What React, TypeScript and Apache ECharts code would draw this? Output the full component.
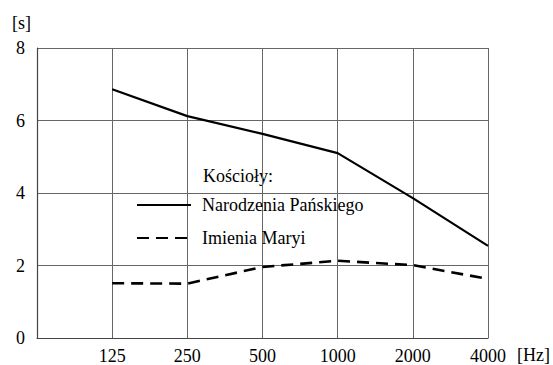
import React, { useEffect, useRef } from "react";
import * as echarts from "echarts";

const categories = ["", "125", "250", "500", "1000", "2000", "4000"];
const narodzenia = [null, 6.86, 6.12, 5.63, 5.1, 3.86, 2.54];
const imienia = [null, 1.51, 1.5, 1.96, 2.13, 2.01, 1.63];
const seriesNames = ["Narodzenia Pańskiego", "Imienia Maryi"];
const legendTitle = "Kościoły:";
const yUnit = "[s]";
const xUnit = "[Hz]";

const FONT = "'Liberation Serif', 'Times New Roman', serif";

export default function App() {
  const ref = useRef<HTMLDivElement>(null);
  useEffect(() => {
    if (!ref.current) return;
    const chart = echarts.init(ref.current, null, { renderer: "svg" });
    chart.setOption({
      animation: false,
      backgroundColor: "#fff",
      textStyle: { fontFamily: FONT, color: "#000" },
      grid: { left: 37, right: 65, top: 48, bottom: 27, containLabel: false },
      xAxis: {
        type: "category",
        data: categories,
        boundaryGap: false,
        axisTick: { show: false },
        axisLine: { show: true, lineStyle: { color: "#444", width: 1.2 } },
        axisLabel: { color: "#000", fontSize: 18, fontFamily: FONT, margin: 9 },
        splitLine: { show: true, lineStyle: { color: "#666", width: 1 } },
      },
      yAxis: {
        type: "value",
        min: 0,
        max: 8,
        interval: 2,
        axisTick: { show: false },
        axisLine: { show: true, lineStyle: { color: "#444", width: 1.2 } },
        axisLabel: { color: "#000", fontSize: 18, fontFamily: FONT, margin: 12 },
        splitLine: { show: true, lineStyle: { color: "#666", width: 1 } },
      },
      legend: {
        orient: "vertical",
        left: 136,
        top: 196,
        itemWidth: 54,
        itemHeight: 14,
        itemGap: 15,
        itemStyle: { opacity: 0 },
        textStyle: { fontSize: 18, fontFamily: FONT, color: "#000", padding: [0, 0, 0, 6] },
        data: seriesNames,
        backgroundColor: "transparent",
        padding: 0,
      },
      graphic: [
        {
          type: "text",
          left: 203,
          top: 167,
          style: { text: legendTitle, fontSize: 18, fontFamily: FONT, fill: "#000" },
        },
        {
          type: "text",
          left: 12,
          top: 14,
          style: { text: yUnit, fontSize: 18, fontFamily: FONT, fill: "#000" },
        },
        {
          type: "text",
          left: 517,
          top: 346,
          style: { text: xUnit, fontSize: 18, fontFamily: FONT, fill: "#000" },
        },
      ],
      series: [
        {
          name: seriesNames[0],
          type: "line",
          data: narodzenia,
          symbol: "none",
          itemStyle: { color: "#000" },
          lineStyle: { color: "#000", width: 2.2, type: "solid" },
        },
        {
          name: seriesNames[1],
          type: "line",
          data: imienia,
          symbol: "none",
          itemStyle: { color: "#000" },
          lineStyle: { color: "#000", width: 2.6, type: [12, 7] },
        },
      ],
    });
    return () => chart.dispose();
  }, []);
  return (
    <div
      ref={ref}
      style={{ position: "fixed", left: 0, top: 0, width: 553, height: 365, background: "#fff" }}
    />
  );
}
